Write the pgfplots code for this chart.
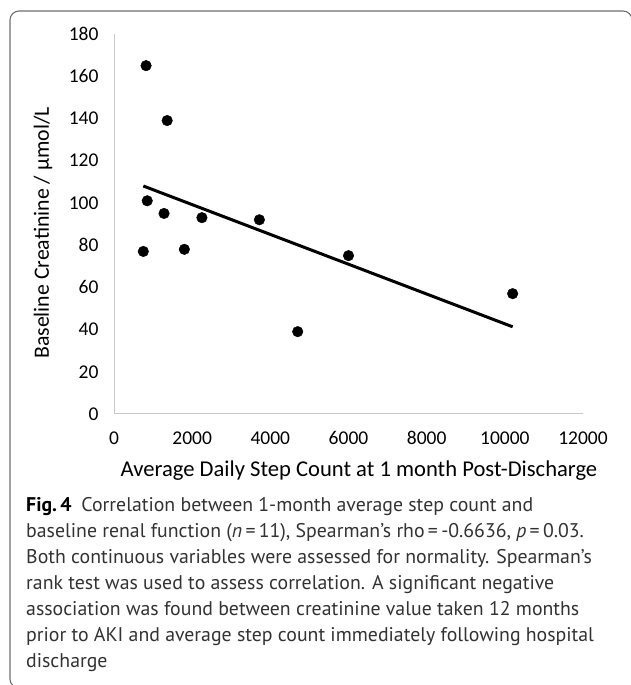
\documentclass[border=0pt]{standalone}
\usepackage{pgfplots}
\pgfplotsset{compat=1.18}
\usepackage{fontspec}
\setmainfont{Carlito}
\newfontfamily\capfont{PT Sans}
\definecolor{axgray}{RGB}{200,200,200}
\definecolor{framegray}{RGB}{110,110,110}
\definecolor{captext}{RGB}{50,50,50}
\begin{document}
\begin{tikzpicture}[x=1pt,y=1pt]
\useasboundingbox (0,0) rectangle (630,685);
\draw[framegray, line width=1.1pt, rounded corners=9pt] (632,600) |- (10,674) |- (60,-3);
\begin{axis}[
  at={(114pt,271pt)}, anchor=south west,
  scale only axis, width=469pt, height=380pt,
  xmin=0, xmax=12000, ymin=0, ymax=180,
  xtick={0,2000,...,12000}, ytick={0,20,...,180},
  axis lines=left,
  axis line style={-, draw=axgray, line width=1pt},
  major tick length=0pt,
  tick style={draw=none},
  /pgf/number format/assume math mode=true,
  /pgf/number format/1000 sep={},
  scaled x ticks=false,
  tick label style={font=\fontsize{19.5}{23}\selectfont},
  xticklabel style={yshift=-14pt},
  yticklabel style={xshift=-12pt},
  clip=false,
]
\addplot[only marks, mark=*, mark size=5.3pt, black] coordinates {
  (820,165) (1360,139) (850,101) (1280,95) (750,77) (1800,78)
  (2250,93) (3720,92) (4700,39) (6000,75) (10200,57)
};
\addplot[black, line width=3pt] coordinates {(750,108) (10200,41.3)};
\end{axis}
\node[anchor=base, font=\fontsize{22.6}{26}\selectfont] at (359,208) {Average Daily Step Count at 1 month Post-Discharge};
\node[rotate=90, font=\fontsize{21.8}{26}\selectfont] at (43,452) {Baseline Creatinine / µmol/L};
\node[anchor=base west, align=left, inner sep=0pt, text=captext, font=\capfont\fontsize{19.8}{26}\selectfont] at (26,17) {%
{\color{black}\bfseries Fig.\,4}\enspace Correlation between 1-month average step count and\\
baseline renal function (\textit{n}\,=\,11), Spearman’s rho\,=\,-0.6636, \textit{p}\,=\,0.03.\\
Both continuous variables were assessed for normality. Spearman’s\\
rank test was used to assess correlation. A significant negative\\
association was found between creatinine value taken 12 months\\
prior to AKI and average step count immediately following hospital\\
discharge};
\end{tikzpicture}
\end{document}
